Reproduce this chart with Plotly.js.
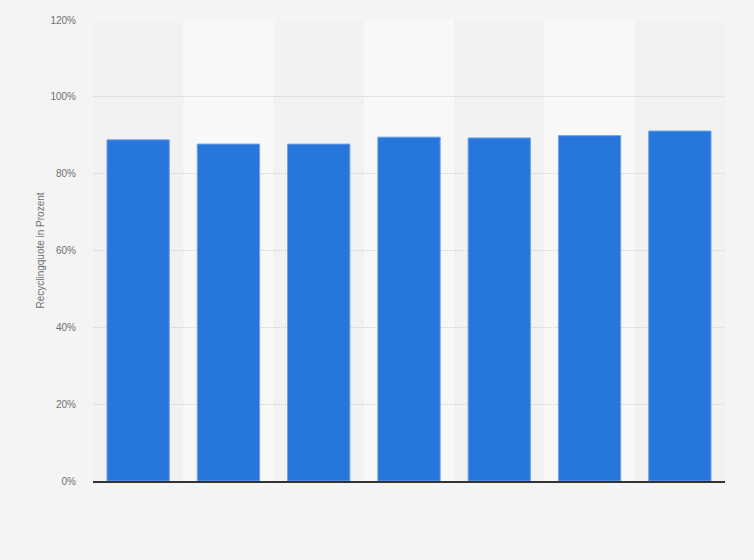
<!DOCTYPE html>
<html>
<head>
<meta charset="utf-8">
<script src="https://cdn.plot.ly/plotly-3.0.1.min.js"></script>
<style>html,body{margin:0;padding:0;background:#f4f4f4;}#chart{width:754px;height:560px;}</style>
</head>
<body>
<div id="chart"></div>
<script>
const categories = ['2012', '2013', '2014', '2015', '2016', '2017', '2018'];
const recyclingRate = [88.8, 87.7, 87.7, 89.5, 89.3, 89.9, 91.1];
const yTicks = [0, 20, 40, 60, 80, 100, 120];

const shapes = categories
  .map((c, i) => i)
  .filter(i => i % 2 === 1)
  .map(i => ({
    type: 'rect', xref: 'x', yref: 'paper',
    x0: i - 0.5, x1: i + 0.5, y0: 0, y1: 1,
    fillcolor: '#f8f8f8', line: {width: 0}, layer: 'below'
  }));

const trace = {
  type: 'bar',
  x: categories,
  y: recyclingRate,
  marker: {color: '#2776dc', line: {color: '#6ea2e8', width: 1}},
  hoverinfo: 'none'
};

const layout = {
  width: 754, height: 560,
  paper_bgcolor: '#f4f4f4',
  plot_bgcolor: '#f2f2f2',
  margin: {l: 93, r: 29, t: 20, b: 79},
  bargap: 0.31,
  showlegend: false,
  font: {family: 'Liberation Sans, Arial, sans-serif', size: 10, color: '#707070'},
  shapes: shapes,
  xaxis: {
    type: 'category',
    showticklabels: false,
    showgrid: false,
    ticks: '',
    showline: true, linecolor: '#333', linewidth: 1.5,
    zeroline: false,
    fixedrange: true
  },
  yaxis: {
    range: [0, 120],
    tickvals: yTicks,
    ticktext: yTicks.map(v => v + '%'),
    showgrid: true, gridcolor: '#cfcfcf', griddash: '1px,1px', gridwidth: 1,
    zeroline: false,
    showline: false,
    ticks: 'outside', ticklen: 14, tickcolor: 'rgba(0,0,0,0)',
    tickfont: {size: 10, color: '#707070'},
    automargin: false,
    title: {text: 'Recyclingquote in Prozent', font: {size: 10, color: '#707070'}, standoff: 3}
  }
};

Plotly.newPlot('chart', [trace], layout, {displayModeBar: false, staticPlot: true});
</script>
</body>
</html>
